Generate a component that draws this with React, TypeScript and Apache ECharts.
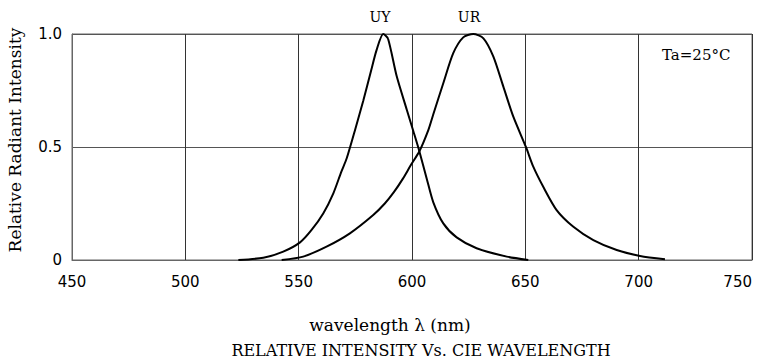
import React, { useEffect, useRef } from "react";
import * as echarts from "echarts";

const xTicks = [450, 500, 550, 600, 650, 700, 750];
const yTickLabels: Record<string, string> = { "0": "0", "0.5": "0.5", "1": "1.0" };

const uyWavelength = [523.4, 534.4, 543.2, 550.6, 555.7, 560.9, 565.3, 568.8, 571.2, 575.0, 578.5, 582.0, 584.4, 587.3, 589.4, 593.2, 597.7, 600.6, 603.0, 606.5, 609.4, 613.8, 619.7, 628.5, 641.8, 651.3];
const uyIntensity = [0.0, 0.01, 0.037, 0.078, 0.133, 0.207, 0.295, 0.39, 0.45, 0.58, 0.705, 0.84, 0.93, 1.0, 0.98, 0.815, 0.665, 0.57, 0.49, 0.36, 0.255, 0.162, 0.1, 0.052, 0.015, 0.0];

const urWavelength = [542.5, 552.0, 562.3, 572.6, 582.9, 588.0, 592.0, 596.0, 599.5, 603.2, 607.2, 609.4, 613.8, 618.2, 622.6, 627.0, 631.5, 635.9, 640.3, 644.7, 650.3, 653.5, 657.9, 663.8, 671.2, 680.0, 690.3, 700.6, 711.6];
const urIntensity = [0.0, 0.015, 0.059, 0.118, 0.199, 0.25, 0.3, 0.36, 0.42, 0.48, 0.575, 0.645, 0.782, 0.915, 0.985, 1.0, 0.981, 0.9, 0.767, 0.634, 0.499, 0.413, 0.324, 0.221, 0.147, 0.088, 0.044, 0.018, 0.003];

const seriesNames = ["UY", "UR"];
const yAxisTitle = "Relative Radiant Intensity";
const xAxisTitle = "wavelength \u03bb (nm)";
const chartTitle = "RELATIVE INTENSITY Vs. CIE WAVELENGTH";
const conditionText = "Ta=25\u00b0C";

const SERIF = "'DejaVu Serif', 'Liberation Serif', serif";
const SANS = "'DejaVu Sans', 'Liberation Sans', sans-serif";

export default function App() {
  const ref = useRef<HTMLDivElement>(null);
  useEffect(() => {
    if (!ref.current) return;
    const chart = echarts.init(ref.current, undefined, { renderer: "svg" });
    const uy = uyWavelength.map((x, i) => [x, uyIntensity[i]]);
    const ur = urWavelength.map((x, i) => [x, urIntensity[i]]);
    chart.setOption({
      animation: false,
      backgroundColor: "#ffffff",
      grid: {
        left: 72,
        top: 34,
        right: 7,
        bottom: 104,
        show: true,
        borderColor: "#666",
        borderWidth: 1,
        containLabel: false,
        outerBoundsMode: "none",
      },
      xAxis: {
        type: "value",
        min: xTicks[0],
        max: xTicks[xTicks.length - 1],
        interval: 50,
        axisLine: { show: true, lineStyle: { color: "#666", width: 1 } },
        axisTick: { show: false },
        splitLine: { show: true, lineStyle: { color: "#333", width: 1 } },
        axisLabel: {
          color: "#000",
          fontFamily: SANS,
          fontSize: 15,
          margin: 14,
          showMaxLabel: true,
          hideOverlap: false,
          alignMaxLabel: "right",
        },
      },
      yAxis: {
        type: "value",
        min: 0,
        max: 1,
        interval: 0.5,
        axisLine: { show: true, lineStyle: { color: "#666", width: 1 } },
        axisTick: { show: false },
        splitLine: { show: true, lineStyle: { color: "#555", width: 1 } },
        axisLabel: {
          color: "#000",
          fontFamily: SANS,
          fontSize: 15,
          margin: 10,
          formatter: (v: number) => yTickLabels[String(v)] ?? String(v),
        },
      },
      series: [
        {
          name: seriesNames[0],
          type: "line",
          data: uy,
          showSymbol: false,
          smooth: 0.25,
          lineStyle: { color: "#000", width: 2 },
          z: 5,
        },
        {
          name: seriesNames[1],
          type: "line",
          data: ur,
          showSymbol: false,
          smooth: 0.25,
          lineStyle: { color: "#000", width: 2 },
          z: 5,
        },
      ],
      graphic: [
        {
          type: "text",
          x: 15,
          y: 140,
          rotation: Math.PI / 2,
          style: { text: yAxisTitle, fontFamily: SERIF, fontSize: 17, fill: "#000", align: "center", verticalAlign: "middle" },
        },
        {
          type: "text",
          x: 390,
          y: 325,
          style: { text: xAxisTitle, fontFamily: SERIF, fontSize: 17, fill: "#000", align: "center", verticalAlign: "middle" },
        },
        {
          type: "text",
          x: 421,
          y: 350,
          style: { text: chartTitle, fontFamily: SERIF, fontSize: 16, fill: "#000", align: "center", verticalAlign: "middle" },
        },
        {
          type: "text",
          x: 380,
          y: 17,
          style: { text: seriesNames[0], fontFamily: SERIF, fontSize: 14, fill: "#000", align: "center", verticalAlign: "middle" },
        },
        {
          type: "text",
          x: 469,
          y: 17,
          style: { text: seriesNames[1], fontFamily: SERIF, fontSize: 14, fill: "#000", align: "center", verticalAlign: "middle" },
        },
        {
          type: "text",
          x: 662,
          y: 55,
          style: { text: conditionText, fontFamily: SERIF, fontSize: 15, fill: "#000", align: "left", verticalAlign: "middle" },
        },
      ],
    });
    return () => chart.dispose();
  }, []);
  return <div ref={ref} style={{ position: "fixed", left: 0, top: 0, width: 759, height: 364 }} />;
}
